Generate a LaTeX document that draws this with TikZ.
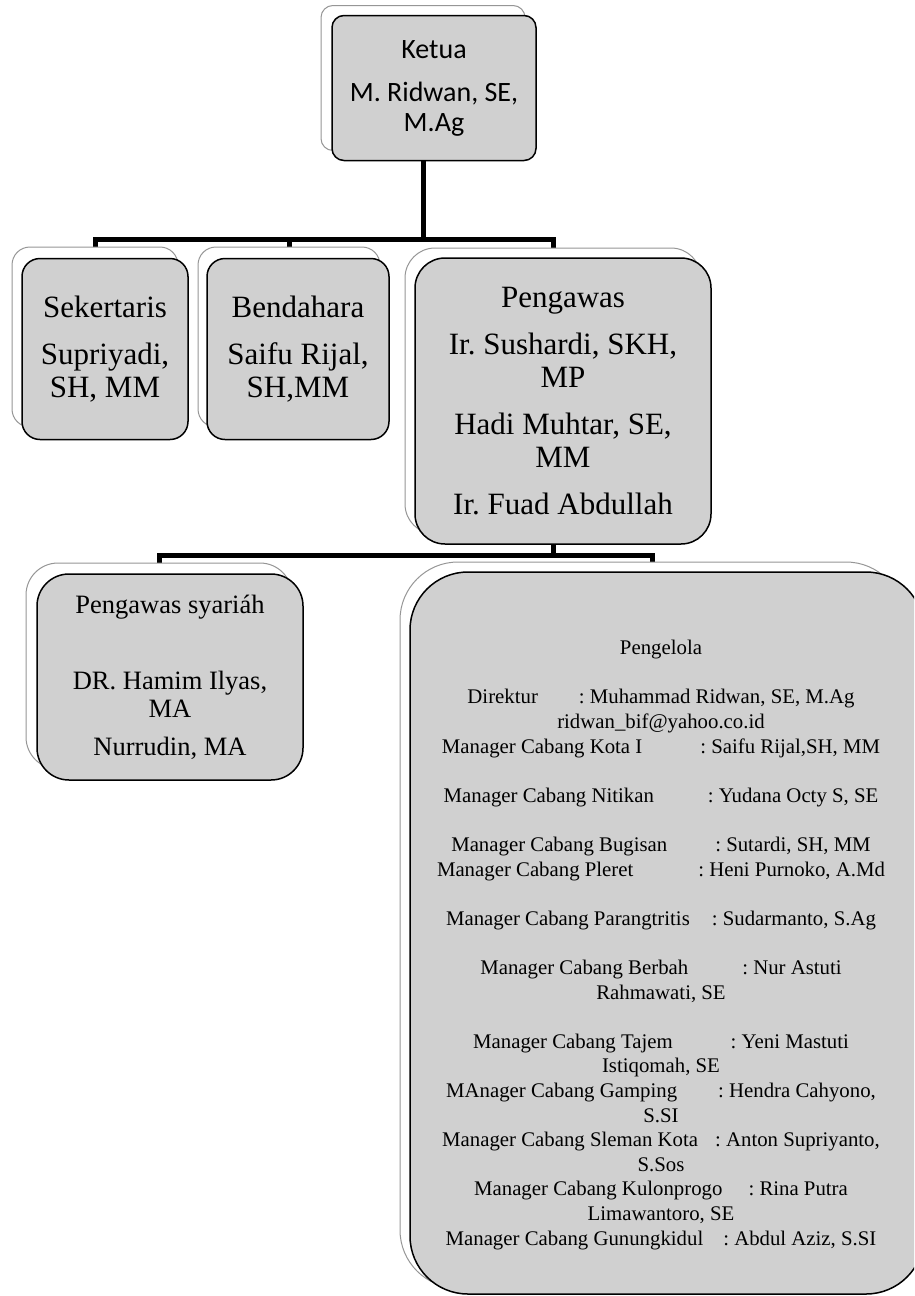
\documentclass[tikz,border=0pt]{standalone}
\usepackage{fontspec}
\setmainfont{Liberation Serif}
\newfontfamily\calibrifont{Carlito}
\definecolor{boxfill}{RGB}{208,208,208}
\definecolor{backline}{RGB}{150,150,150}
\pgfdeclarelayer{bg}
\pgfsetlayers{bg,main}
\frenchspacing
\tikzset{
  backbox/.style={draw=backline, line width=1pt, fill=white, inner sep=0pt, rectangle},
  frontbox/.style={draw=black, line width=1.5pt, fill=boxfill, inner sep=0pt, align=center, text=black},
  conn/.style={draw=black, line width=5pt, line join=miter},
  bigtext/.style={font=\frenchspacing\fontsize{31}{33}\selectfont},
}
\newcommand{\plrow}[3]{#1\hspace{#2pt}#3}
\begin{document}
\begin{tikzpicture}[x=1pt,y=-1pt]
\useasboundingbox (0,0) rectangle (914,1296);
\clip (0,0) rectangle (914,1296);
% Ketua
\node[backbox, minimum width=204pt, minimum height=145pt, rounded corners=12pt] (kb) at (423,78) {};
\node[frontbox, minimum width=204pt, minimum height=145pt, rounded corners=12pt,
      font=\calibrifont\frenchspacing\fontsize{28}{30}\selectfont] (k) at (434,88)
      {Ketua\\[13pt]M. Ridwan, SE,\\M.Ag};
% Sekertaris
\node[backbox, minimum width=166pt, minimum height=180pt, rounded corners=18pt] (sb) at (95,337) {};
\node[frontbox, bigtext, minimum width=166pt, minimum height=181pt, rounded corners=18pt] (s) at (105,349)
      {Sekertaris\\[14pt]Supriyadi,\\SH, MM};
% Bendahara
\node[backbox, minimum width=182pt, minimum height=180pt, rounded corners=18pt] (bb) at (289,337) {};
\node[frontbox, bigtext, minimum width=182pt, minimum height=181pt, rounded corners=18pt] (b) at (298,349)
      {Bendahara\\[14pt]Saifu Rijal,\\SH,MM};
% Pengawas
\node[backbox, minimum width=296pt, minimum height=286pt, rounded corners=30pt] (pb) at (553,391) {};
\node[frontbox, bigtext, minimum width=296pt, minimum height=286pt, rounded corners=30pt] (p) at (563,401)
      {Pengawas\\[14pt]Ir. Sushardi, SKH,\\MP\\[14pt]Hadi Muhtar, SE,\\MM\\[14pt]Ir. Fuad Abdullah};
% Pengawas syariah
\node[backbox, minimum width=266pt, minimum height=206pt, rounded corners=32pt] (yb) at (159,666) {};
\node[frontbox, minimum width=266pt, minimum height=206pt, rounded corners=32pt,
      font=\frenchspacing\fontsize{26.5}{28}\selectfont] (y) at (170,677)
      {Pengawas syariáh\\[48pt]DR. Hamim Ilyas,\\MA\\[10pt]Nurrudin, MA};
% Pengelola
\node[backbox, minimum width=504pt, minimum height=726pt, rounded corners=58pt] (gb) at (652,925) {};
\node[frontbox, minimum width=514pt, minimum height=722pt, rounded corners=58pt] (g) at (667,933) {};
\node[inner sep=0pt, align=center, font=\frenchspacing\fontsize{20.8}{24.6}\selectfont] (gt) at (661,945)
  {Pengelola\\[24.6pt]
   \plrow{Direktur}{41}{: Muhammad Ridwan, SE, M.Ag}\\
   ridwan\_bif@yahoo.co.id\\
   \plrow{Manager Cabang Kota I}{58}{: Saifu Rijal,SH, MM}\\[24.6pt]
   \plrow{Manager Cabang Nitikan}{54}{: Yudana Octy S, SE}\\[24.6pt]
   \plrow{Manager Cabang Bugisan}{48}{: Sutardi, SH, MM}\\
   \plrow{Manager Cabang Pleret}{65}{: Heni Purnoko, A.Md}\\[24.6pt]
   \plrow{Manager Cabang Parangtritis}{22}{: Sudarmanto, S.Ag}\\[24.6pt]
   \plrow{Manager Cabang Berbah}{54}{: Nur Astuti}\\
   Rahmawati, SE\\[24.6pt]
   \plrow{Manager Cabang Tajem}{58}{: Yeni Mastuti}\\
   Istiqomah, SE\\
   \plrow{MAnager Cabang Gamping}{41}{: Hendra Cahyono,}\\
   S.SI\\
   \plrow{Manager Cabang Sleman Kota}{17}{: Anton Supriyanto,}\\
   S.Sos\\
   \plrow{Manager Cabang Kulonprogo}{26}{: Rina Putra}\\
   Limawantoro, SE\\
   \plrow{Manager Cabang Gunungkidul}{20}{: Abdul Aziz, S.SI}};
% connectors
\begin{pgfonlayer}{bg}
  \coordinate (j1) at (423,239);
  \coordinate (j2) at (553,555);
  \draw[conn] (kb.south) -- (kb.south |- j1) -| (sb.north);
  \draw[conn] (kb.south |- j1) -| (bb.north);
  \draw[conn] (kb.south |- j1) -| (pb.north);
  \draw[conn] (pb.south) -- (pb.south |- j2) -| (yb.north);
  \draw[conn] (pb.south |- j2) -| (gb.north);
\end{pgfonlayer}
\end{tikzpicture}
\end{document}
